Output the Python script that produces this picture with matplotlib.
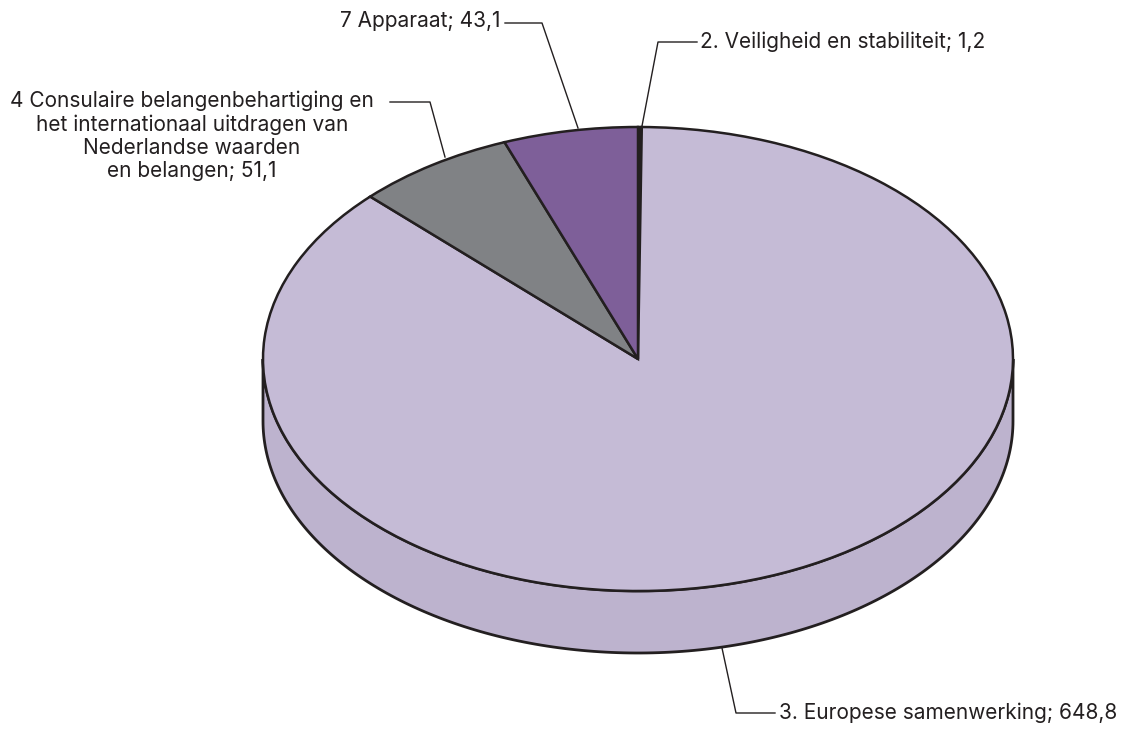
import numpy as np
import matplotlib
matplotlib.use('Agg')
import matplotlib.pyplot as plt
from matplotlib.patches import Polygon

plt.rcParams['font.family'] = ['Inter', 'Liberation Sans', 'DejaVu Sans']

# slices, clockwise from the top
labels = ['2. Veiligheid en stabiliteit; 1,2',
          '3. Europese samenwerking; 648,8',
          '4 Consulaire belangenbehartiging en\nhet internationaal uitdragen van\nNederlandse waarden\nen belangen; 51,1',
          '7 Apparaat; 43,1']
values = [1.2, 648.8, 51.1, 43.1]
colors = ['#231F20', '#C5BBD6', '#808285', '#7E5F99']
side_color = '#BDB3CE'

W, H = 1126, 729
cx, cy = 638, 359      # pie centre in pixels
rx, ry = 375, 232      # ellipse radii in pixels
depth = 62             # thickness in pixels

fig = plt.figure(figsize=(W / 100, H / 100), dpi=100)
ax = fig.add_axes([0, 0, 1, 1])

# side of the cake (front half is all one slice)
t = np.linspace(np.pi, 2 * np.pi, 200)
xs = np.cos(t)
ys = np.sin(t)
d = depth / ry
side = np.concatenate([np.column_stack([xs, ys]),
                       np.column_stack([xs[::-1], ys[::-1] - d])])
ax.add_patch(Polygon(side, closed=True, facecolor=side_color,
                     edgecolor='#231F20', lw=2, zorder=1))

wedges, _ = ax.pie(values, colors=colors, startangle=90, counterclock=False,
                   wedgeprops=dict(edgecolor='#231F20', linewidth=1.8))
for w in wedges:
    w.set_zorder(2)

ax.set_aspect('auto')
ax.set_xlim(-cx / rx, (W - cx) / rx)
ax.set_ylim((cy - H) / ry, cy / ry)
ax.axis('off')

# overlay in pixel coordinates for labels and leader lines
ov = fig.add_axes([0, 0, 1, 1], facecolor='none')
ov.set_xlim(0, W)
ov.set_ylim(H, 0)
ov.axis('off')

lc = '#231F20'
fs = 15
txt = '#231F20'

# 2. Veiligheid
ov.plot([642, 658, 697], [126, 42, 42], color=lc, lw=1)
ov.text(700, 42, labels[0], fontsize=fs, color=txt, va='center', ha='left')

# 7 Apparaat
ov.plot([578, 542, 505], [128, 23, 23], color=lc, lw=1)
ov.text(501, 21, labels[3], fontsize=fs, color=txt, va='center', ha='right')

# 4 Consulaire
ov.plot([445, 430, 390], [157, 102, 102], color=lc, lw=1)
ov.text(192, 136, labels[2], fontsize=fs, color=txt, va='center', ha='center',
        linespacing=1.2)

# 3. Europese
ov.plot([722, 736, 775], [648, 713, 713], color=lc, lw=1)
ov.text(779, 713, labels[1], fontsize=fs, color=txt, va='center', ha='left')

fig.savefig('out.png', dpi=100)
